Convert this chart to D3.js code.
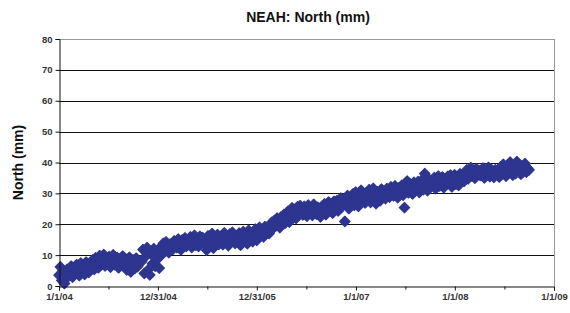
<!DOCTYPE html>
<html>
<head>
<meta charset="utf-8">
<script src="https://cdn.jsdelivr.net/npm/d3@7"></script>
<style>
  body { margin: 0; background: #fff; }
  text { font-family: "Liberation Sans", Arial, sans-serif; }
</style>
</head>
<body>
<div id="chart"></div>
<script>
// GPS north component, one solution every 5 days from 1/1/04 (null = no solution)
const startDate = new Date(2004, 0, 1);
const stepDays = 5;
const northValues = [
  3.5, 6.2, 1.8, 4.9, 0.8, 2.6, 5.4, 3.1, 4.2, 6.4, 2.9, 5.1,
  4.1, 6.9, 5.3, 3.4, 7.4, 4.8, 6.1, 3.8, 7.7, 5.6, 4.4, 6.8,
  6.2, 8.5, 5.4, 9.1, 7.3, 5.9, 9.8, 6.8, 8.1, 10.2, 6.5, 8.8,
  7.6, 9.5, 6.1, 8.4, 10.1, 6.9, 7.8, 9.2, 5.9, 8.6, 7.1, 9.7,
  6.8, 8.9, 5.2, 7.7, 9.3, 4.6, 7.1, 8.4, 5.7, 9.0, 6.3, null,
  null, 7.9, 11.8, 4.1, 9.6, 12.4, 5.3, 3.6, 10.3, 7.2, 12.1, 6.4,
  8.4, 11.5, 5.8, 12.6, 10.2, 13.8, 11.1, 14.3, 12.2, 10.8, 13.6, 12.9,
  11.9, 14.6, 13.1, 12.4, 15.2, 13.8, 11.7, 14.9, 13.4, 15.6, 12.8, 14.1,
  13.6, 15.9, 12.5, 14.8, 16.4, 13.2, 15.3, 12.8, 16.1, 14.2, 15.7, 13.9,
  14.4, 11.6, 16.2, 13.7, 15.5, 17.0, 12.3, 15.8, 14.1, 16.6, 13.5, 15.2,
  16.3, 13.4, 17.2, 14.7, 15.9, 13.1, 16.8, 14.3, 17.4, 15.6, 13.8, 16.0,
  14.6, 17.1, 13.2, 15.8, 17.6, 14.9, 16.4, 13.7, 18.0, 15.3, 16.9, 14.4,
  16.2, 18.4, 14.8, 17.3, 19.0, 16.7, 18.1, 15.9, 19.2, 17.6, 18.8, 17.0,
  17.9, 20.6, 18.7, 21.2, 19.5, 22.0, 20.1, 18.9, 22.4, 21.0, 23.1, 20.4,
  21.8, 24.2, 20.7, 23.5, 25.3, 22.3, 24.8, 21.9, 25.6, 23.2, 26.0, 24.1,
  23.0, 25.8, 24.4, 22.6, 26.2, 23.7, 25.1, 22.9, 26.4, 24.6, 23.3, 25.5,
  23.9, 22.4, 25.7, 24.2, 26.6, 23.1, 25.0, 27.2, 24.5, 26.1, 23.6, 27.4,
  25.2, 27.6, 24.3, 26.8, 28.5, 25.7, 27.9, 20.9, 26.4, 29.3, 25.1, 28.1,
  27.2, 29.8, 26.1, 30.4, 28.3, 25.8, 29.1, 31.0, 27.5, 29.6, 26.9, 30.2,
  28.4, 31.2, 27.1, 29.8, 31.6, 28.0, 26.7, 30.5, 29.2, 27.6, 31.4, 28.9,
  29.9, 28.3, 31.5, 30.6, 28.8, 32.1, 30.1, 29.2, 32.4, 31.0, 28.6, 31.8,
  30.7, 32.6, 29.4, 25.4, 31.9, 34.0, 30.2, 33.1, 31.4, 29.8, 33.6, 31.1,
  31.6, 33.8, 30.3, 32.7, 34.4, 31.2, 36.4, 33.0, 30.9, 34.6, 32.3, 33.9,
  32.8, 35.1, 31.5, 34.2, 35.6, 32.4, 33.7, 35.3, 31.9, 34.8, 33.2, 35.5,
  33.6, 35.9, 32.1, 34.9, 36.0, 33.0, 35.4, 32.6, 36.3, 34.4, 35.8, 33.9,
  35.2, 37.6, 34.7, 36.8, 38.3, 35.6, 37.1, 34.9, 38.0, 36.3, 37.4, 35.8,
  36.1, 38.2, 35.0, 37.3, 36.6, 38.4, 35.4, 37.8, 36.9, 35.2, 37.6, 36.4,
  37.2, 35.3, 38.6, 36.5, 39.4, 37.0, 35.6, 38.9, 36.8, 40.1, 37.7, 35.9,
  38.5, 36.4, 40.3, 37.4, 39.2, 36.2, 38.8, 37.1, 39.6, 36.9, 38.1, 37.6
];

const xTickDates = [new Date(2004, 0, 1), new Date(2004, 11, 31), new Date(2005, 11, 31),
                    new Date(2007, 0, 1), new Date(2008, 0, 1), new Date(2009, 0, 1)];
const xTickLabels = ["1/1/04", "12/31/04", "12/31/05", "1/1/07", "1/1/08", "1/1/09"];
const yTicks = [0, 10, 20, 30, 40, 50, 60, 70, 80];

const width = 570, height = 313;
const margin = {top: 39, right: 16, bottom: 27, left: 59};
const color = "#2e3590";

const data = northValues
  .map((v, i) => ({date: d3.timeDay.offset(startDate, i * stepDays), value: v}))
  .filter(d => d.value !== null);

const svg = d3.select("#chart").append("svg")
  .attr("width", width)
  .attr("height", height);

const x = d3.scaleTime()
  .domain([xTickDates[0], xTickDates[xTickDates.length - 1]])
  .range([margin.left, width - margin.right]);

const y = d3.scaleLinear()
  .domain([0, 80])
  .range([height - margin.bottom, margin.top]);

// title
svg.append("text")
  .attr("x", 308)
  .attr("y", 22)
  .attr("text-anchor", "middle")
  .attr("font-size", 14)
  .attr("font-weight", "bold")
  .attr("fill", "#111")
  .text("NEAH: North (mm)");

// y title
svg.append("text")
  .attr("transform", "translate(23," + (height - margin.bottom + margin.top) / 2 + ") rotate(-90)")
  .attr("text-anchor", "middle")
  .attr("font-size", 14)
  .attr("font-weight", "bold")
  .attr("fill", "#111")
  .text("North (mm)");

// gridlines
svg.append("g")
  .selectAll("line")
  .data(yTicks.slice(1))
  .join("line")
  .attr("x1", margin.left)
  .attr("x2", width - margin.right)
  .attr("y1", d => Math.round(y(d)) + 0.5)
  .attr("y2", d => Math.round(y(d)) + 0.5)
  .attr("stroke", d => d === 80 ? "#999" : "#111")
  .attr("stroke-width", 1);

// right border
svg.append("line")
  .attr("x1", width - margin.right + 0.5)
  .attr("x2", width - margin.right + 0.5)
  .attr("y1", y(80))
  .attr("y2", y(0))
  .attr("stroke", "#999");

// points
const r = 5.2;
svg.append("g")
  .selectAll("path")
  .data(data)
  .join("path")
  .attr("transform", d => "translate(" + x(d.date) + "," + y(d.value) + ")")
  .attr("d", `M0,${-r}L${r},0L0,${r}L${-r},0Z`)
  .attr("fill", color)
  .attr("stroke", color)
  .attr("stroke-width", 1.2)
  .attr("stroke-linejoin", "round");

// y axis
const yAxis = svg.append("g")
  .attr("transform", "translate(" + (margin.left + 0.5) + ",0)")
  .call(d3.axisLeft(y).tickValues(yTicks).tickSize(4).tickPadding(3));
yAxis.select(".domain").attr("stroke", "#111");
yAxis.selectAll(".tick line").attr("stroke", "#111");
yAxis.selectAll("text")
  .attr("font-size", 9.5)
  .attr("font-family", "Liberation Sans, Arial, sans-serif")
  .attr("font-weight", "bold")
  .attr("fill", "#333");

// x axis, minor ticks halfway between major ones
const minorTicks = d3.pairs(xTickDates).map(([a, b]) => new Date((+a + +b) / 2));
svg.append("g")
  .attr("transform", "translate(0," + (Math.round(y(0)) + 0.5) + ")")
  .call(d3.axisBottom(x).tickValues(minorTicks).tickSize(3).tickFormat(""))
  .call(g => g.select(".domain").remove())
  .selectAll(".tick line").attr("stroke", "#111");

const xAxis = svg.append("g")
  .attr("transform", "translate(0," + (Math.round(y(0)) + 0.5) + ")")
  .call(d3.axisBottom(x).tickValues(xTickDates).tickSize(4).tickPadding(3)
    .tickFormat((d, i) => xTickLabels[i]));
xAxis.select(".domain").attr("stroke", "#111");
xAxis.selectAll(".tick line").attr("stroke", "#111");
xAxis.selectAll("text")
  .attr("font-size", 9.5)
  .attr("font-family", "Liberation Sans, Arial, sans-serif")
  .attr("font-weight", "bold")
  .attr("fill", "#333");
</script>
</body>
</html>
